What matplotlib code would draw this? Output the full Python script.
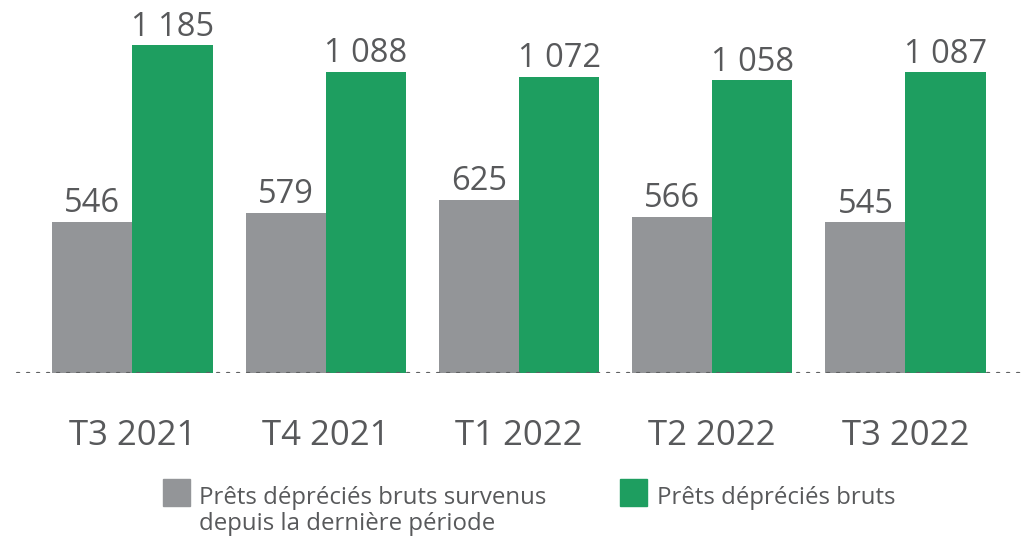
import matplotlib.pyplot as plt
import numpy as np
from matplotlib.patches import Rectangle

# data
periods = ['T3 2021', 'T4 2021', 'T1 2022', 'T2 2022', 'T3 2022']
new_impaired = [546, 579, 625, 566, 545]
gross_impaired = [1185, 1088, 1072, 1058, 1087]
labels = ['Prêts dépréciés bruts survenus\ndepuis la dernière période',
          'Prêts dépréciés bruts']

GREY = '#939598'
GREEN = '#1e9e60'
TEXT = '#58595b'

plt.rcParams['font.family'] = ['Open Sans', 'DejaVu Sans']

fig = plt.figure(figsize=(10.25, 5.41), dpi=100)
# axes start at the baseline, full width
ax = fig.add_axes([0, 168 / 541, 1, 373 / 541])

x = np.arange(len(periods))
w = 0.414
b1 = ax.bar(x - w / 2, new_impaired, w, color=GREY, label=labels[0])
b2 = ax.bar(x + w / 2, gross_impaired, w, color=GREEN, label=labels[1])

ax.set_xlim(-132.5 / 193.25, (1025 - 132.5) / 193.25)
ax.set_ylim(0, 373 / 0.2765)
ax.axis('off')

# value labels, space as thousands separator
for bars, vals in [(b1, new_impaired), (b2, gross_impaired)]:
    for rect, v in zip(bars, vals):
        txt = '{:,}'.format(v).replace(',', ' ')
        ax.annotate(txt, (rect.get_x() + rect.get_width() / 2, v),
                    xytext=(0, 7), textcoords='offset points',
                    ha='center', va='baseline', fontsize=23.5, color=TEXT)

# dotted baseline
ax.axhline(0, xmin=17 / 1025, xmax=1020 / 1025, color='#5f6062',
           linewidth=1.6, linestyle=(0, (1, 3.5)), dash_capstyle='round')

# category labels
for xi, p in zip(x, periods):
    ax.annotate(p, (xi, 0), xytext=(0, -52), textcoords='offset points',
                ha='center', va='baseline', fontsize=25, color=TEXT)

# legend drawn by hand
fig.patches.append(Rectangle((163 / 1025, 1 - 506 / 541), 27 / 1025, 27 / 541,
                             transform=fig.transFigure, color=GREY))
fig.text(199 / 1025, 1 - 504 / 541, labels[0].split('\n')[0], fontsize=17.3,
         color=TEXT, va='baseline', ha='left')
fig.text(199 / 1025, 1 - 530 / 541, labels[0].split('\n')[1], fontsize=17.3,
         color=TEXT, va='baseline', ha='left')
fig.patches.append(Rectangle((620 / 1025, 1 - 506 / 541), 27 / 1025, 27 / 541,
                             transform=fig.transFigure, color=GREEN))
fig.text(657 / 1025, 1 - 504 / 541, labels[1], fontsize=17.3, color=TEXT,
         va='baseline', ha='left')

fig.savefig('out.png', dpi=100)
